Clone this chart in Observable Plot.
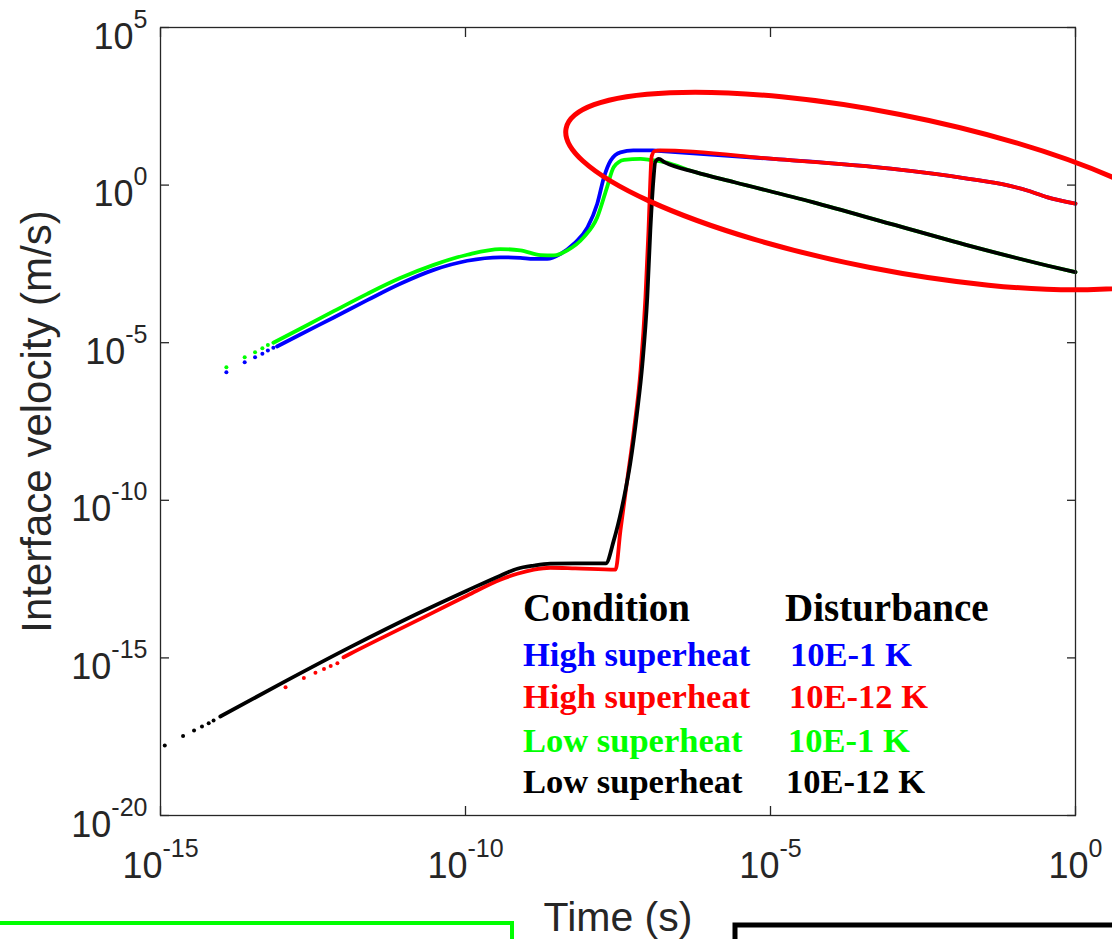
<!DOCTYPE html>
<html><head><meta charset="utf-8">
<script src="https://cdn.jsdelivr.net/npm/d3@7"></script>
<script src="https://cdn.jsdelivr.net/npm/@observablehq/plot@0.6"></script>
<style>
html,body{margin:0;padding:0;background:#fff;}
#wrap{position:relative;width:1112px;height:939px;overflow:hidden;background:#fff;}
#overlay{position:absolute;left:0;top:0;pointer-events:none;}
</style></head><body><div id="wrap"></div>
<script>
// ---- axis ticks ----
const xTicks = [1e-15, 1e-10, 1e-5, 1];
const xTickExp = ["-15", "-10", "-5", "0"];
const yTicks = [1e-20, 1e-15, 1e-10, 1e-5, 1, 1e5];
const yTickExp = ["-20", "-15", "-10", "-5", "0", "5"];

// ---- data (log10 of time [s] and log10 of velocity [m/s]) ----
// High superheat, 10E-1 K (blue)
const blueDotLogT = [-13.92, -13.62, -13.45, -13.33, -13.24, -13.15];
const blueDotLogV = [-5.94, -5.62, -5.46, -5.35, -5.25, -5.16];
const blueLogT = [-13.09, -12.70, -12.16, -11.61, -11.07, -10.52, -9.97, -9.43, -9.10, -8.88, -8.66, -8.44, -8.22, -8.00, -7.84, -7.73, -7.62, -7.46, -7.25, -6.93, -6.85, -4.95, -3.03, -1.75, -1.11, -0.79, -0.47, 0];
const blueLogV = [-5.12, -4.73, -4.20, -3.65, -3.13, -2.69, -2.40, -2.29, -2.31, -2.34, -2.34, -2.18, -1.86, -1.34, -0.59, 0.25, 0.78, 1.04, 1.10, 1.10, 1.09, 0.83, 0.52, 0.20, -0.01, -0.17, -0.38, -0.59];
// Low superheat, 10E-1 K (green)
const greenDotLogT = [-13.92, -13.62, -13.45, -13.33, -13.24];
const greenDotLogV = [-5.78, -5.46, -5.30, -5.18, -5.07];
const greenLogT = [-13.15, -12.70, -12.16, -11.61, -11.07, -10.52, -9.97, -9.43, -9.10, -8.77, -8.55, -8.33, -8.06, -7.84, -7.68, -7.57, -7.40, -7.13, -6.97, -6.74, -6.23, -5.59, -4.31, -3.03, -1.75, -0.47, 0];
const greenLogV = [-5.00, -4.55, -4.00, -3.45, -2.95, -2.53, -2.21, -2.03, -2.07, -2.22, -2.23, -2.07, -1.65, -1.02, -0.07, 0.57, 0.80, 0.83, 0.80, 0.73, 0.41, 0.09, -0.54, -1.23, -1.92, -2.55, -2.76];
// High superheat, 10E-12 K (red)
const redDotLogT = [-12.95, -12.65, -12.46, -12.32, -12.21, -12.10];
const redDotLogV = [-15.93, -15.64, -15.47, -15.35, -15.26, -15.17];
const redLogT = [-12.00, -11.89, -10.79, -9.97, -9.43, -9.15, -8.88, -8.61, -8.20, -7.54, -7.46, -7.35, -7.24, -7.13, -7.05, -7.00, -6.97, -6.95, -6.90, -6.80, -4.95, -3.03, -1.75, -1.11, -0.79, -0.47, 0];
const redLogV = [-14.98, -14.87, -13.81, -13.02, -12.52, -12.33, -12.20, -12.14, -12.16, -12.20, -10.96, -9.37, -7.79, -5.88, -3.56, -1.44, 0.15, 0.89, 1.08, 1.10, 0.83, 0.52, 0.20, -0.01, -0.17, -0.38, -0.59];
// Low superheat, 10E-12 K (black)
const blackDotLogT = [-14.93, -14.63, -14.45, -14.32, -14.21, -14.13];
const blackDotLogV = [-17.78, -17.48, -17.30, -17.18, -17.07, -16.99];
const blackLogT = [-14.02, -12.98, -11.89, -10.79, -9.97, -9.43, -9.15, -8.88, -8.61, -8.20, -7.70, -7.57, -7.40, -7.30, -7.19, -7.10, -7.02, -6.97, -6.92, -6.89, -6.83, -6.74, -6.23, -5.59, -4.31, -3.03, -1.75, -0.47, 0];
const blackLogV = [-16.86, -15.77, -14.66, -13.60, -12.86, -12.39, -12.17, -12.07, -12.01, -12.00, -12.00, -11.28, -9.90, -8.84, -7.26, -5.67, -3.56, -1.44, 0.15, 0.73, 0.83, 0.73, 0.41, 0.09, -0.54, -1.23, -1.92, -2.55, -2.76];

// ---- legend ----
const legendHead = ["Condition", "Disturbance"];
const legendCond = ["High superheat", "High superheat", "Low superheat", "Low superheat"];
const legendDist = ["10E-1 K", "10E-12 K", "10E-1 K", "10E-12 K"];
const seriesColors = ["#0000ff", "#ff0000", "#00ff00", "#000000"];

const toPts = (lt, lv) => lt.map((t, i) => ({t: 10 ** t, v: 10 ** lv[i]}));
const series = [
  {color: seriesColors[0], line: toPts(blueLogT, blueLogV), dots: toPts(blueDotLogT, blueDotLogV)},
  {color: seriesColors[2], line: toPts(greenLogT, greenLogV), dots: toPts(greenDotLogT, greenDotLogV)},
  {color: seriesColors[1], line: toPts(redLogT, redLogV), dots: toPts(redDotLogT, redDotLogV)},
  {color: seriesColors[3], line: toPts(blackLogT, blackLogV), dots: toPts(blackDotLogT, blackDotLogV)}
];

const axisColor = "#262626";
const sans = "'Liberation Sans', Arial, Helvetica, sans-serif";

const marks = [];
for (const s of series) {
  marks.push(Plot.line(s.line, {x: "t", y: "v", stroke: s.color, strokeWidth: 3.8, curve: "monotone-x"}));
  marks.push(Plot.dot(s.dots, {x: "t", y: "v", r: 2, fill: s.color, stroke: "none"}));
}

const plot = Plot.plot({
  width: 1112, height: 939,
  marginLeft: 160, marginRight: 37, marginTop: 27, marginBottom: 124,
  style: {background: "white", fontFamily: sans, overflow: "visible"},
  x: {type: "log", domain: [1e-15, 1], axis: null},
  y: {type: "log", domain: [1e-20, 1e5], axis: null},
  marks: [
    ...marks,
    Plot.frame({stroke: axisColor, strokeWidth: 1.3}),
    Plot.axisX(xTicks, {anchor: "bottom", tickSize: -9, tickFormat: () => "", stroke: axisColor, strokeWidth: 1.3, label: null}),
    Plot.axisX(xTicks, {anchor: "top", tickSize: -9, tickFormat: () => "", stroke: axisColor, strokeWidth: 1.3, label: null}),
    Plot.axisY(yTicks, {anchor: "left", tickSize: -9, tickFormat: () => "", stroke: axisColor, strokeWidth: 1.3, label: null}),
    Plot.axisY(yTicks, {anchor: "right", tickSize: -9, tickFormat: () => "", stroke: axisColor, strokeWidth: 1.3, label: null}),
    Plot.text(xTicks, {x: d => d, frameAnchor: "bottom", text: (d, i) => `10^${xTickExp[i]}`, lineAnchor: "bottom", textAnchor: "middle", dy: 62, fontSize: 36, fill: axisColor}),
    Plot.text(yTicks, {y: d => d, frameAnchor: "left", text: (d, i) => `10^${yTickExp[i]}`, lineAnchor: "bottom", textAnchor: "end", dx: -13, dy: 21, fontSize: 36, fill: axisColor}),
    Plot.text(["Time (s)"], {frameAnchor: "bottom", text: d => d, lineAnchor: "bottom", textAnchor: "middle", dy: 115, fontSize: 41, fill: axisColor}),
    Plot.text(["Interface velocity (m/s)"], {frameAnchor: "left", text: d => d, rotate: -90, dx: -123, textAnchor: "middle", lineAnchor: "middle", fontSize: 42, fill: axisColor})
  ]
});

// superscript exponents on tick labels
d3.select(plot).selectAll("text").each(function () {
  const m = /^10\^(.+)$/.exec(this.textContent);
  if (m) {
    this.textContent = "10";
    d3.select(this).append("tspan").attr("dy", -21).attr("font-size", 25).text(m[1]);
  }
});

const wrap = document.getElementById("wrap");
wrap.appendChild(plot);

// overlay: legend and annotations
const ov = d3.select(wrap).append("svg").attr("id", "overlay").attr("width", 1112).attr("height", 939);
ov.append("ellipse").attr("cx", 885).attr("cy", 191).attr("rx", 325).attr("ry", 78)
  .attr("transform", "rotate(11.1 885 191)").attr("fill", "none").attr("stroke", "#ff0000").attr("stroke-width", 5);
ov.append("rect").attr("x", -10).attr("y", 923).attr("width", 522).attr("height", 80)
  .attr("fill", "none").attr("stroke", "#00ff00").attr("stroke-width", 4);
ov.append("rect").attr("x", 735).attr("y", 925).attr("width", 500).attr("height", 80)
  .attr("fill", "none").attr("stroke", "#000000").attr("stroke-width", 5);

const serif = "'Liberation Serif', 'Times New Roman', Times, serif";
const lg = ov.append("g").attr("font-family", serif).attr("font-weight", "bold");
lg.append("text").attr("x", 523).attr("y", 621).attr("font-size", 39).attr("fill", "#000").text(legendHead[0]);
lg.append("text").attr("x", 785).attr("y", 621).attr("font-size", 39).attr("fill", "#000").text(legendHead[1]);
const rowY = [666, 708, 752, 793];
const distX = [790, 789, 788, 786];
legendCond.forEach((c, i) => {
  lg.append("text").attr("x", 523).attr("y", rowY[i]).attr("font-size", 34.5).attr("fill", seriesColors[i]).text(c);
  lg.append("text").attr("x", distX[i]).attr("y", rowY[i]).attr("font-size", 34.5).attr("fill", seriesColors[i]).text(legendDist[i]);
});
</script>
</body></html>
